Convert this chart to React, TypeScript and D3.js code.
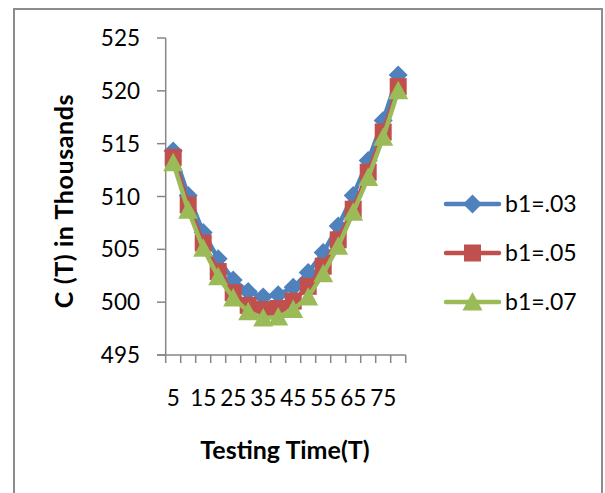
import React from "react";
import * as d3 from "d3";

const categories = [5, 10, 15, 20, 25, 30, 35, 40, 45, 50, 55, 60, 65, 70, 75, 80];
const seriesB103 = [514.3, 510.1, 506.6, 504.1, 502.1, 501.0, 500.5, 500.7, 501.4, 502.8, 504.7, 507.2, 510.1, 513.4, 517.2, 521.5];
const seriesB105 = [513.7, 509.2, 505.6, 502.9, 500.9, 499.7, 499.3, 499.4, 500.1, 501.5, 503.4, 505.9, 508.8, 512.3, 516.1, 520.4];
const seriesB107 = [513.2, 508.7, 505.1, 502.4, 500.4, 499.1, 498.5, 498.6, 499.3, 500.5, 502.7, 505.3, 508.5, 511.8, 515.6, 520.0];
const seriesNames = ["b1=.03", "b1=.05", "b1=.07"];
const yTicks = [495, 500, 505, 510, 515, 520, 525];
const xTickLabels = [5, 15, 25, 35, 45, 55, 65, 75];

const colors = ["#4F81BD", "#C0504D", "#9BBB59"];
const shapes = ["diamond", "square", "triangle"];
const FONT = "Lato, 'Open Sans', sans-serif";

function markerPath(shape: string): string {
  if (shape === "diamond") return "M0,-9.5L9.5,0L0,9.5L-9.5,0Z";
  if (shape === "square") return "M-8.5,-8.5H8.5V8.5H-8.5Z";
  return "M0,-10L10,8.5L-10,8.5Z";
}

export default function App() {
  const W = 605, H = 493;
  const x = d3.scaleBand<number>().domain(categories).range([165.7, 405.7]).paddingInner(0).paddingOuter(0);
  const y = d3.scaleLinear().domain([495, 525]).range([355, 38]);
  const cx = (c: number) => (x(c) as number) + x.bandwidth() / 2;
  const data = [seriesB103, seriesB105, seriesB107];
  const line = d3.line<number>().x((_, i) => cx(categories[i])).y((v) => y(v));
  const axisColor = "#868686";
  const legendY = [204, 253, 302];

  return (
    <svg width={W} height={H} style={{ position: "absolute", left: 0, top: 0, background: "#fff" }}>
      <rect x={0} y={0} width={W} height={H} fill="#fff" />
      {/* outer frame */}
      <path d={`M14,${H + 2}V9H602V${H + 2}`} fill="none" stroke="#8c8c8c" strokeWidth={2} />

      {/* y axis */}
      <line x1={165.7} x2={165.7} y1={y(525)} y2={y(495)} stroke={axisColor} strokeWidth={1.5} />
      {yTicks.map((t) => (
        <g key={t}>
          <line x1={157} x2={165.7} y1={y(t)} y2={y(t)} stroke={axisColor} strokeWidth={1.5} />
          <text x={140} y={y(t)} dy="0.36em" textAnchor="end" fontFamily={FONT} fontSize={22.5} fill="#000">
            {t}
          </text>
        </g>
      ))}

      {/* x axis */}
      <line x1={157} x2={405.7} y1={355} y2={355} stroke={axisColor} strokeWidth={1.5} />
      {categories.map((c) => (
        <line key={c} x1={(x(c) as number) + x.bandwidth()} x2={(x(c) as number) + x.bandwidth()} y1={355} y2={363} stroke={axisColor} strokeWidth={1.5} />
      ))}
      <line x1={165.7} x2={165.7} y1={355} y2={363} stroke={axisColor} strokeWidth={1.5} />
      {xTickLabels.map((t) => (
        <text key={t} x={cx(t)} y={406} textAnchor="middle" fontFamily={FONT} fontSize={22.5} fill="#000">
          {t}
        </text>
      ))}

      {/* axis titles */}
      <text x={285} y={459} textAnchor="middle" fontFamily={FONT} fontWeight="bold" fontSize={25} fill="#000">
        Testing Time(T)
      </text>
      <text transform="translate(73,201) rotate(-90)" textAnchor="middle" fontFamily={FONT} fontWeight="bold" fontSize={25} letterSpacing={0.6} fill="#000">
        C (T) in Thousands
      </text>

      {/* series */}
      {data.map((vals, si) => (
        <g key={si}>
          <path d={line(vals) as string} fill="none" stroke={colors[si]} strokeWidth={4.5} strokeLinejoin="round" strokeLinecap="round" />
          {vals.map((v, i) => (
            <path key={i} d={markerPath(shapes[si])} transform={`translate(${cx(categories[i])},${y(v)})`} fill={colors[si]} />
          ))}
        </g>
      ))}

      {/* legend */}
      {seriesNames.map((name, si) => (
        <g key={name}>
          <line x1={446} x2={499} y1={legendY[si]} y2={legendY[si]} stroke={colors[si]} strokeWidth={4.5} strokeLinecap="round" />
          <path d={markerPath(shapes[si])} transform={`translate(472.5,${legendY[si]})`} fill={colors[si]} />
          <text x={505} y={legendY[si]} dy="0.36em" fontFamily={FONT} fontSize={23} fill="#000">
            {name}
          </text>
        </g>
      ))}
    </svg>
  );
}
